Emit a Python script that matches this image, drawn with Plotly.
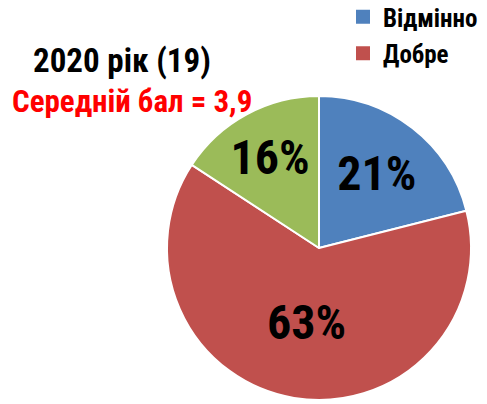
import plotly.graph_objs as go

labels = ['Відмінно', 'Добре', 'Задовільно']
counts = [4, 12, 3]
colors = ['#4F81BD', '#C0504D', '#9BBB59']
legend_labels = ['Відмінно', 'Добре']

title_text = '2020 рік (19)'
subtitle_text = 'Середній бал = 3,9'

FONT = 'Roboto Condensed, Liberation Sans Narrow, Arial Narrow, Arial'
W, H = 487, 404
OFF = 8  # page body margin shifts the figure by 8px


def px_x(x):
    return (x - OFF) / W


def px_y(y):
    return 1 - (y - OFF) / H


fig = go.Figure()
fig.add_trace(
    go.Pie(
        labels=labels,
        values=counts,
        sort=False,
        direction='clockwise',
        rotation=0,
        marker=dict(colors=colors, line=dict(color='white', width=2)),
        texttemplate='%{percent:.0%}',
        textposition='inside',
        insidetextorientation='horizontal',
        textfont=dict(family=FONT, size=48, color='black', weight='bold'),
        domain=dict(x=[px_x(167), px_x(471)], y=[px_y(400), px_y(96)]),
        showlegend=False,
        hoverinfo='label+percent',
    )
)

# legend entries (only two shown in the original)
for i, name in enumerate(legend_labels):
    fig.add_trace(
        go.Scatter(
            x=[None], y=[None],
            mode='markers',
            name=name,
            legendgroup=name,
            marker=dict(symbol='square', size=14, color=colors[i]),
        )
    )

fig.update_layout(
    width=W,
    height=H,
    margin=dict(l=0, r=0, t=0, b=0, autoexpand=False),
    paper_bgcolor='white',
    plot_bgcolor='white',
    uniformtext=dict(minsize=48, mode='show'),
    xaxis=dict(visible=False),
    yaxis=dict(visible=False),
    showlegend=True,
    legend=dict(
        x=px_x(343), y=px_y(-6), xanchor='left', yanchor='top',
        font=dict(family=FONT, size=25, color='black', weight='bold'),
        traceorder='grouped',
        tracegroupgap=1,
        itemwidth=30,
        bgcolor='rgba(0,0,0,0)',
    ),
    annotations=[
        dict(text=title_text, x=px_x(122), y=px_y(60), xref='paper', yref='paper',
             xanchor='center', yanchor='middle', showarrow=False,
             font=dict(family=FONT, size=33, color='black', weight='bold')),
        dict(text=subtitle_text, x=px_x(132), y=px_y(101), xref='paper', yref='paper',
             xanchor='center', yanchor='middle', showarrow=False,
             font=dict(family=FONT, size=31, color='#FF0000', weight='bold')),
    ],
)

fig.write_html("out.html")
